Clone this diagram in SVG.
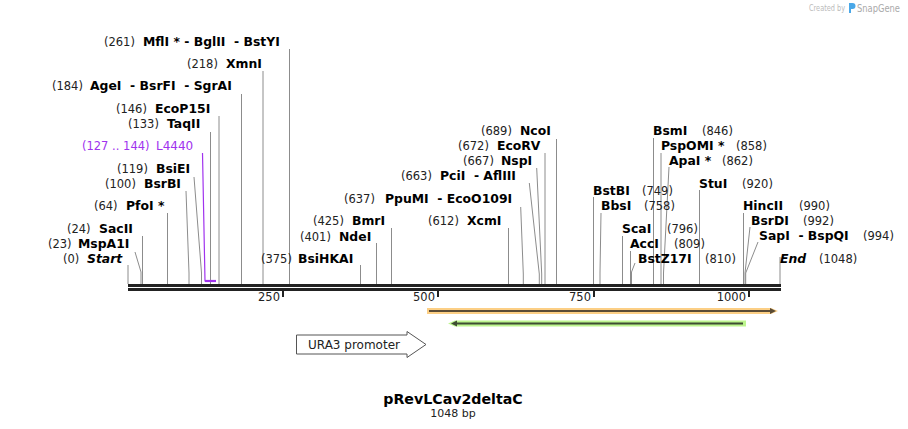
<svg xmlns="http://www.w3.org/2000/svg" width="908" height="429" viewBox="0 0 908 429">
<style>
text{font-family:"DejaVu Sans",Verdana,sans-serif;white-space:pre;}
.n{font-size:11.5px;fill:#222;}
.b{font-size:12.4px;font-weight:bold;fill:#000;}
.i{font-style:italic;}
.p{fill:#a033ee;}
.c line,.c polyline{stroke:#8c8c8c;stroke-width:1;fill:none;}
.tk{stroke:#222;stroke-width:2;}
.tl{font-size:11.5px;fill:#222;text-anchor:end;}
</style>
<rect width="908" height="429" fill="#fff"/>
<g id="watermark">
<text x="809" y="11" textLength="36" lengthAdjust="spacingAndGlyphs" style="font-size:8px;fill:#bbb">Created by</text>
<path d="M849 3 h3.5 a3 3 0 0 1 0 6 h-1.5 v4 h-2 z" fill="#4aa8e8"/>
<text x="857" y="12" textLength="43" lengthAdjust="spacingAndGlyphs" style="font-size:10px;fill:#aaa">SnapGene</text>
</g>
<g id="connectors" class="c">
<line x1="128" y1="265" x2="128" y2="284"/>
<polyline points="135,252 141,272 141,284"/>
<line x1="142.5" y1="236" x2="142.5" y2="284"/>
<line x1="167.5" y1="213" x2="167.5" y2="284"/>
<polyline points="186,191 189,273 189,284"/>
<polyline points="194,177 201.5,273 201.5,284"/>
<line x1="210.5" y1="132" x2="210.5" y2="284"/>
<line x1="219" y1="116" x2="219" y2="284"/>
<line x1="241.5" y1="94" x2="241.5" y2="284"/>
<line x1="263" y1="71" x2="263" y2="284"/>
<line x1="289.5" y1="49" x2="289.5" y2="284"/>
<line x1="360.5" y1="265" x2="360.5" y2="284"/>
<line x1="376.5" y1="243" x2="376.5" y2="284"/>
<line x1="391.5" y1="228" x2="391.5" y2="284"/>
<line x1="508.5" y1="228" x2="508.5" y2="284"/>
<polyline points="520.7,207 523.3,274 523.3,284"/>
<polyline points="529.3,183 539.3,274 539.3,284"/>
<polyline points="536.7,168 541.7,274 541.7,284"/>
<line x1="545" y1="153" x2="545" y2="284"/>
<line x1="556.5" y1="139" x2="556.5" y2="284"/>
<line x1="593.5" y1="197" x2="593.5" y2="284"/>
<polyline points="601,213 600,273 600,284"/>
<line x1="622.5" y1="236" x2="622.5" y2="284"/>
<line x1="630.5" y1="251" x2="630.5" y2="284"/>
<polyline points="635,263 631.5,272 631.5,284"/>
<line x1="653.5" y1="138" x2="653.5" y2="284"/>
<line x1="661" y1="153" x2="661" y2="284"/>
<polyline points="669,167 663.5,273 663.5,284"/>
<line x1="699.5" y1="190" x2="699.5" y2="284"/>
<line x1="743.5" y1="213" x2="743.5" y2="284"/>
<polyline points="750,227 745,273 745,284"/>
<polyline points="758,242 745.7,273 745.7,284"/>
<line x1="780" y1="257" x2="780" y2="284"/>
<polyline points="202.5,153 205,281 216,281" style="stroke:#a033ee;stroke-width:1.2"/>
<line x1="205" y1="281" x2="216" y2="281" style="stroke:#a033ee;stroke-width:2.2"/>
</g>
<g id="axis">
<rect x="128" y="284" width="653" height="3" fill="#222"/>
<rect x="128" y="288" width="653" height="3" fill="#222"/>
<line class="tk" x1="283" y1="291" x2="283" y2="297"/>
<line class="tk" x1="438" y1="291" x2="438" y2="297"/>
<line class="tk" x1="594" y1="291" x2="594" y2="297"/>
<line class="tk" x1="749" y1="291" x2="749" y2="297"/>
<text class="tl" x="280" y="301">250</text>
<text class="tl" x="435" y="301">500</text>
<text class="tl" x="591" y="301">750</text>
<text class="tl" x="746" y="301">1000</text>
</g>
<g id="s0"><text class="n" x="63" y="263">(0)</text><text class="b i" x="87" y="263">Start</text></g>
<g id="s23"><text class="n" x="48" y="248">(23)</text><text class="b" x="78" y="248">MspA1I</text></g>
<g id="s24"><text class="n" x="67" y="233">(24)</text><text class="b" x="99" y="233">SacII</text></g>
<g id="s64"><text class="n" x="94" y="210">(64)</text><text class="b" x="126" y="210">PfoI *</text></g>
<g id="s100"><text class="n" x="105" y="188">(100)</text><text class="b" x="144" y="188">BsrBI</text></g>
<g id="s119"><text class="n" x="117" y="173">(119)</text><text class="b" x="156" y="173">BsiEI</text></g>
<g id="f_L4440"><text class="n p" x="82" y="150">(127 .. 144)</text><text class="p" x="156" y="150" style="font-size:12px">L4440</text></g>
<g id="s133"><text class="n" x="128" y="128">(133)</text><text class="b" x="167" y="128">TaqII</text></g>
<g id="s146"><text class="n" x="116" y="113">(146)</text><text class="b" x="155" y="113">EcoP15I</text></g>
<g id="s184"><text class="n" x="52" y="90">(184)</text><text class="b" x="90" y="90">AgeI  - BsrFI  - SgrAI</text></g>
<g id="s218"><text class="n" x="187" y="68">(218)</text><text class="b" x="226" y="68">XmnI</text></g>
<g id="s261"><text class="n" x="104" y="46">(261)</text><text class="b" x="143" y="46">MflI * - BglII  - BstYI</text></g>
<g id="s375"><text class="n" x="261" y="263">(375)</text><text class="b" x="298" y="263">BsiHKAI</text></g>
<g id="s401"><text class="n" x="300" y="241">(401)</text><text class="b" x="339" y="241">NdeI</text></g>
<g id="s425"><text class="n" x="313" y="225">(425)</text><text class="b" x="352" y="225">BmrI</text></g>
<g id="s612"><text class="n" x="428" y="225">(612)</text><text class="b" x="467" y="225">XcmI</text></g>
<g id="s637"><text class="n" x="344" y="203">(637)</text><text class="b" x="385" y="203">PpuMI  - EcoO109I</text></g>
<g id="s663"><text class="n" x="401" y="180">(663)</text><text class="b" x="440" y="180">PciI  - AflIII</text></g>
<g id="s667"><text class="n" x="463" y="165">(667)</text><text class="b" x="501" y="165">NspI</text></g>
<g id="s672"><text class="n" x="458" y="150">(672)</text><text class="b" x="497" y="150">EcoRV</text></g>
<g id="s689"><text class="n" x="481" y="135">(689)</text><text class="b" x="520" y="135">NcoI</text></g>
<g id="s749"><text class="b" x="593" y="195">BstBI</text><text class="n" x="642" y="195">(749)</text></g>
<g id="s758"><text class="b" x="601" y="210">BbsI</text><text class="n" x="644" y="210">(758)</text></g>
<g id="s796"><text class="b" x="622" y="233">ScaI</text><text class="n" x="667" y="233">(796)</text></g>
<g id="s809"><text class="b" x="630" y="248">AccI</text><text class="n" x="674" y="248">(809)</text></g>
<g id="s810"><text class="b" x="638" y="263">BstZ17I</text><text class="n" x="705" y="263">(810)</text></g>
<g id="s846"><text class="b" x="653" y="135">BsmI</text><text class="n" x="702" y="135">(846)</text></g>
<g id="s858"><text class="b" x="661" y="150">PspOMI *</text><text class="n" x="736" y="150">(858)</text></g>
<g id="s862"><text class="b" x="669" y="165">ApaI *</text><text class="n" x="722" y="165">(862)</text></g>
<g id="s920"><text class="b" x="699" y="188">StuI</text><text class="n" x="742" y="188">(920)</text></g>
<g id="s990"><text class="b" x="743" y="210">HincII</text><text class="n" x="799" y="210">(990)</text></g>
<g id="s992"><text class="b" x="751" y="225">BsrDI</text><text class="n" x="803" y="225">(992)</text></g>
<g id="s994"><text class="b" x="759" y="240">SapI  - BspQI</text><text class="n" x="863" y="240">(994)</text></g>
<g id="s1048"><text class="b i" x="780" y="263">End</text><text class="n" x="819" y="263">(1048)</text></g>
<g id="f_orange">
<polygon points="427,308 771,308 778,311 771,314 427,314" fill="#fccf85"/>
<line x1="429" y1="311" x2="771" y2="311" stroke="#5a4b35" stroke-width="2"/>
<polygon points="770,308 776,311 770,314" fill="#5a4b35"/>
</g>
<g id="f_green">
<polygon points="448,323.5 455,320.5 746,320.5 746,326.5 455,326.5" fill="#bdf58e"/>
<line x1="455" y1="323.5" x2="743" y2="323.5" stroke="#3e4d33" stroke-width="2"/>
<polygon points="451,323.5 457,320.5 457,326.5" fill="#3e4d33"/>
</g>
<g id="f_ura3">
<polygon points="296.5,335 407,335 407,331.5 426,344.5 407,357.5 407,354 296.5,354" fill="#fff" stroke="#555" stroke-width="1"/>
<text x="308" y="349" style="font-size:12px;fill:#222">URA3 promoter</text>
</g>
<g id="title">
<text x="453" y="404" text-anchor="middle" style="font-size:14.2px;font-weight:bold;fill:#000">pRevLCav2deltaC</text>
<text x="453" y="417" text-anchor="middle" style="font-size:11px;fill:#222">1048 bp</text>
</g>
</svg>
